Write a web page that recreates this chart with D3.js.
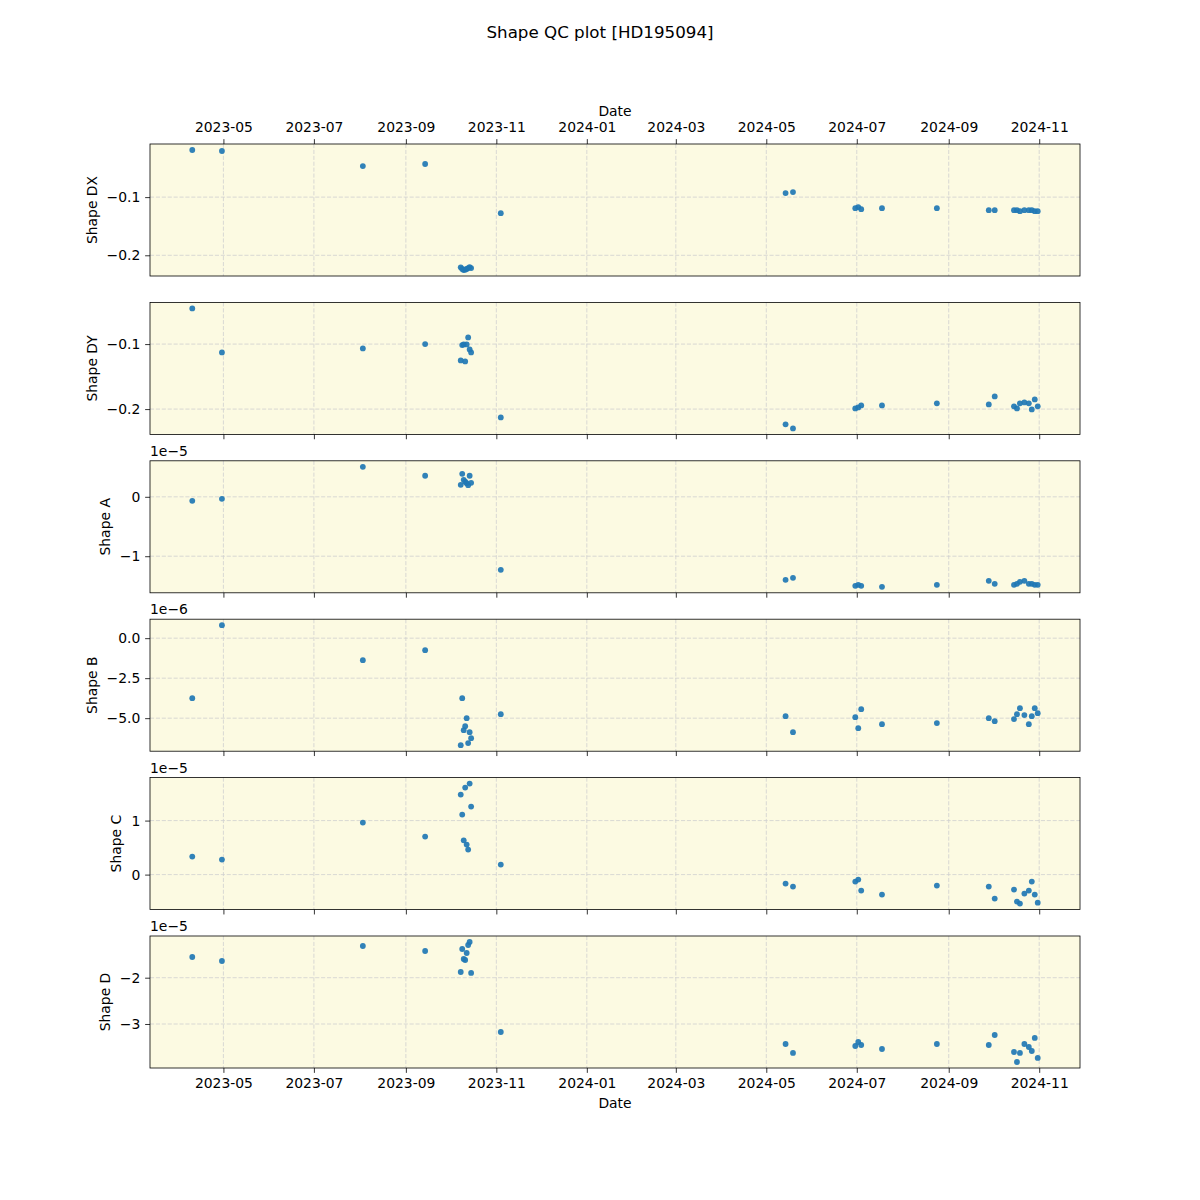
<!DOCTYPE html>
<html>
<head>
<meta charset="utf-8">
<script src="https://cdn.jsdelivr.net/npm/d3@7"></script>
<style>
  html, body { margin: 0; padding: 0; background: #ffffff; }
  svg { display: block; font-family: "DejaVu Sans", sans-serif; }
</style>
</head>
<body>
<svg id="chart" width="1200" height="1200"></svg>
<script>
// ---------------- data ----------------
const dates = [
  "2023-04-10", "2023-04-30", "2023-08-03", "2023-09-14",
  "2023-10-08", "2023-10-09", "2023-10-10", "2023-10-11",
  "2023-10-12", "2023-10-13", "2023-10-14", "2023-10-15",
  "2023-11-04",
  "2024-05-14", "2024-05-19", "2024-06-30", "2024-07-02", "2024-07-04",
  "2024-07-18", "2024-08-24", "2024-09-28", "2024-10-02",
  "2024-10-15", "2024-10-17", "2024-10-19", "2024-10-22",
  "2024-10-25", "2024-10-27", "2024-10-29", "2024-10-31"
];

const shapeDX = [
  -0.0190, -0.0207, -0.0466, -0.0431,
  -0.2207, -0.2236, -0.2253, -0.2248, -0.2236, -0.2220, -0.2202, -0.2220,
  -0.1276,
  -0.0931, -0.0914, -0.1190, -0.1172, -0.1207, -0.1190, -0.1190, -0.1224, -0.1224,
  -0.1224, -0.1224, -0.1241, -0.1224, -0.1224, -0.1224, -0.1241, -0.1241
];

const shapeDY = [
  -0.0451, -0.1128, -0.1066, -0.1000,
  -0.1251, -0.1015, -0.1005, -0.1266, -0.1005, -0.0897, -0.1082, -0.1128,
  -0.2128,
  -0.2235, -0.2297, -0.1989, -0.1974, -0.1943, -0.1943, -0.1912, -0.1928, -0.1805,
  -0.1958, -0.1989, -0.1912, -0.1897, -0.1912, -0.2005, -0.1851, -0.1958
];

const shapeA = [
  -0.067e-5, -0.034e-5, 0.505e-5, 0.354e-5,
  0.202e-5, 0.387e-5, 0.286e-5, 0.253e-5, 0.230e-5, 0.196e-5, 0.354e-5, 0.236e-5,
  -1.229e-5,
  -1.397e-5, -1.364e-5, -1.498e-5, -1.481e-5, -1.498e-5, -1.515e-5, -1.481e-5, -1.414e-5, -1.465e-5,
  -1.481e-5, -1.465e-5, -1.431e-5, -1.414e-5, -1.465e-5, -1.465e-5, -1.481e-5, -1.481e-5
];

const shapeB = [
  -3.75e-6, 0.81e-6, -1.375e-6, -0.75e-6,
  -6.69e-6, -3.75e-6, -5.75e-6, -5.5e-6, -5.0e-6, -6.56e-6, -5.875e-6, -6.25e-6,
  -4.75e-6,
  -4.875e-6, -5.875e-6, -4.94e-6, -5.625e-6, -4.44e-6, -5.375e-6, -5.31e-6, -5.0e-6, -5.19e-6,
  -5.06e-6, -4.75e-6, -4.375e-6, -4.81e-6, -5.375e-6, -4.875e-6, -4.375e-6, -4.69e-6
];

const shapeC = [
  0.333e-5, 0.278e-5, 0.963e-5, 0.704e-5,
  1.481e-5, 1.111e-5, 0.635e-5, 1.611e-5, 0.556e-5, 0.463e-5, 1.685e-5, 1.259e-5,
  0.185e-5,
  -0.167e-5, -0.222e-5, -0.130e-5, -0.093e-5, -0.296e-5, -0.370e-5, -0.204e-5, -0.222e-5, -0.444e-5,
  -0.278e-5, -0.500e-5, -0.537e-5, -0.352e-5, -0.296e-5, -0.130e-5, -0.370e-5, -0.519e-5
];

const shapeD = [
  -1.553e-5, -1.639e-5, -1.315e-5, -1.423e-5,
  -1.877e-5, -1.380e-5, -1.596e-5, -1.618e-5, -1.467e-5, -1.294e-5, -1.229e-5, -1.898e-5,
  -3.173e-5,
  -3.432e-5, -3.626e-5, -3.475e-5, -3.389e-5, -3.454e-5, -3.540e-5, -3.432e-5, -3.454e-5, -3.238e-5,
  -3.605e-5, -3.821e-5, -3.626e-5, -3.432e-5, -3.497e-5, -3.583e-5, -3.302e-5, -3.734e-5
];

// tick values and their labels per panel
const ticksDX = [-0.1, -0.2];        const tickLabelsDX = ["\u22120.1", "\u22120.2"];
const ticksDY = [-0.1, -0.2];        const tickLabelsDY = ["\u22120.1", "\u22120.2"];
const ticksA  = [0, -1e-5];          const tickLabelsA  = ["0", "\u22121"];
const ticksB  = [0, -2.5e-6, -5e-6]; const tickLabelsB  = ["0.0", "\u22122.5", "\u22125.0"];
const ticksC  = [1e-5, 0];           const tickLabelsC  = ["1", "0"];
const ticksD  = [-2e-5, -3e-5];      const tickLabelsD  = ["\u22122", "\u22123"];

const panelNames   = ["Shape DX", "Shape DY", "Shape A", "Shape B", "Shape C", "Shape D"];
const panelOffsets = ["", "", "1e\u22125", "1e\u22126", "1e\u22125", "1e\u22125"];
const titleText = "Shape QC plot [HD195094]";
const xLabel = "Date";

// ---------------- layout ----------------
const svg = d3.select("#chart");
const left = 150, right = 1080;
const panelH = 132, panelGap = 26.4, firstTop = 144;
const bg = "#fcfae2", dotColor = "#1f77b4", gridColor = "#cfcfcf";
const fontSize = 13.9;
const tickLen = 4.86;

const parsed = dates.map(s => d3.utcParse("%Y-%m-%d")(s));
const panels = [
  { values: shapeDX, ticks: ticksDX, labels: tickLabelsDX },
  { values: shapeDY, ticks: ticksDY, labels: tickLabelsDY },
  { values: shapeA,  ticks: ticksA,  labels: tickLabelsA },
  { values: shapeB,  ticks: ticksB,  labels: tickLabelsB },
  { values: shapeC,  ticks: ticksC,  labels: tickLabelsC },
  { values: shapeD,  ticks: ticksD,  labels: tickLabelsD }
];

function padded(ext) {
  const d = ext[1] - ext[0];
  return [ext[0] - 0.05 * d, ext[1] + 0.05 * d];
}

const xExt = d3.extent(parsed).map(d => +d);
const xDom = padded(xExt).map(v => new Date(v));
const x = d3.scaleUtc().domain(xDom).range([left, right]);
const xTicks = d3.utcMonth.every(2).range(d3.utcMonth.ceil(xDom[0]), xDom[1]);
const fmt = d3.utcFormat("%Y-%m");

// title
svg.append("text")
  .attr("x", 600).attr("y", 38)
  .attr("text-anchor", "middle")
  .attr("font-size", 16.7)
  .attr("fill", "#000")
  .text(titleText);

panels.forEach((p, i) => {
  const top = firstTop + i * (panelH + panelGap);
  const bottom = top + panelH;
  const y = d3.scaleLinear().domain(padded(d3.extent(p.values))).range([bottom, top]);
  const g = svg.append("g");

  // background
  g.append("rect")
    .attr("x", left).attr("y", top)
    .attr("width", right - left).attr("height", panelH)
    .attr("fill", bg);

  // vertical grid
  g.append("g").selectAll("line").data(xTicks).join("line")
    .attr("x1", d => x(d)).attr("x2", d => x(d))
    .attr("y1", top).attr("y2", bottom)
    .attr("stroke", gridColor).attr("stroke-width", 0.8)
    .attr("stroke-dasharray", "4.1,1.8");

  // horizontal grid
  g.append("g").selectAll("line").data(p.ticks).join("line")
    .attr("x1", left).attr("x2", right)
    .attr("y1", d => y(d)).attr("y2", d => y(d))
    .attr("stroke", gridColor).attr("stroke-width", 0.8)
    .attr("stroke-dasharray", "4.1,1.8");

  // points
  g.append("g").selectAll("circle").data(p.values).join("circle")
    .attr("cx", (d, k) => x(parsed[k]))
    .attr("cy", d => y(d))
    .attr("r", 2.9)
    .attr("fill", dotColor)
    .attr("fill-opacity", 0.92);

  // y axis
  const yAxis = d3.axisLeft(y)
    .tickValues(p.ticks)
    .tickFormat((d, k) => p.labels[k])
    .tickSize(tickLen).tickPadding(4.86);
  const ya = g.append("g").attr("transform", `translate(${left},0)`).call(yAxis);
  ya.select(".domain").remove();
  ya.selectAll("line").attr("stroke", "#000").attr("stroke-width", 0.8);
  ya.selectAll("text").attr("font-size", fontSize).attr("fill", "#000")
    .attr("font-family", "DejaVu Sans");

  // y label position from tick label extent
  let minX = Infinity;
  ya.selectAll("text").each(function () {
    const b = this.getBBox();
    const m = this.getCTM();
    minX = Math.min(minX, b.x + m.e);
  });
  g.append("text")
    .attr("transform", `translate(${minX - 10},${(top + bottom) / 2}) rotate(-90)`)
    .attr("text-anchor", "middle")
    .attr("font-size", fontSize)
    .attr("fill", "#000")
    .text(panelNames[i]);

  // offset text
  if (panelOffsets[i]) {
    g.append("text")
      .attr("x", left).attr("y", top - 5)
      .attr("font-size", fontSize)
      .attr("fill", "#000")
      .text(panelOffsets[i]);
  }

  // x axes
  if (i === 0) {
    const xa = g.append("g").attr("transform", `translate(0,${top})`)
      .call(d3.axisTop(x).tickValues(xTicks).tickFormat(fmt).tickSize(tickLen).tickPadding(7.5));
    xa.select(".domain").remove();
    xa.selectAll("line").attr("stroke", "#000").attr("stroke-width", 0.8);
    xa.selectAll("text").attr("font-size", fontSize).attr("fill", "#000").attr("font-family", "DejaVu Sans");
    g.append("text").attr("x", (left + right) / 2).attr("y", top - 28)
      .attr("text-anchor", "middle").attr("font-size", fontSize).attr("fill", "#000").text(xLabel);
  } else {
    const last = i === panels.length - 1;
    const xa = g.append("g").attr("transform", `translate(0,${bottom})`)
      .call(d3.axisBottom(x).tickValues(xTicks).tickFormat(last ? fmt : () => "").tickSize(tickLen).tickPadding(4.86));
    xa.select(".domain").remove();
    xa.selectAll("line").attr("stroke", "#000").attr("stroke-width", 0.8);
    xa.selectAll("text").attr("font-size", fontSize).attr("fill", "#000").attr("font-family", "DejaVu Sans");
    if (last) {
      g.append("text").attr("x", (left + right) / 2).attr("y", bottom + 40)
        .attr("text-anchor", "middle").attr("font-size", fontSize).attr("fill", "#000").text(xLabel);
    }
  }

  // frame
  g.append("rect")
    .attr("x", left).attr("y", top)
    .attr("width", right - left).attr("height", panelH)
    .attr("fill", "none").attr("stroke", "#000").attr("stroke-width", 0.8);
});
</script>
</body>
</html>
